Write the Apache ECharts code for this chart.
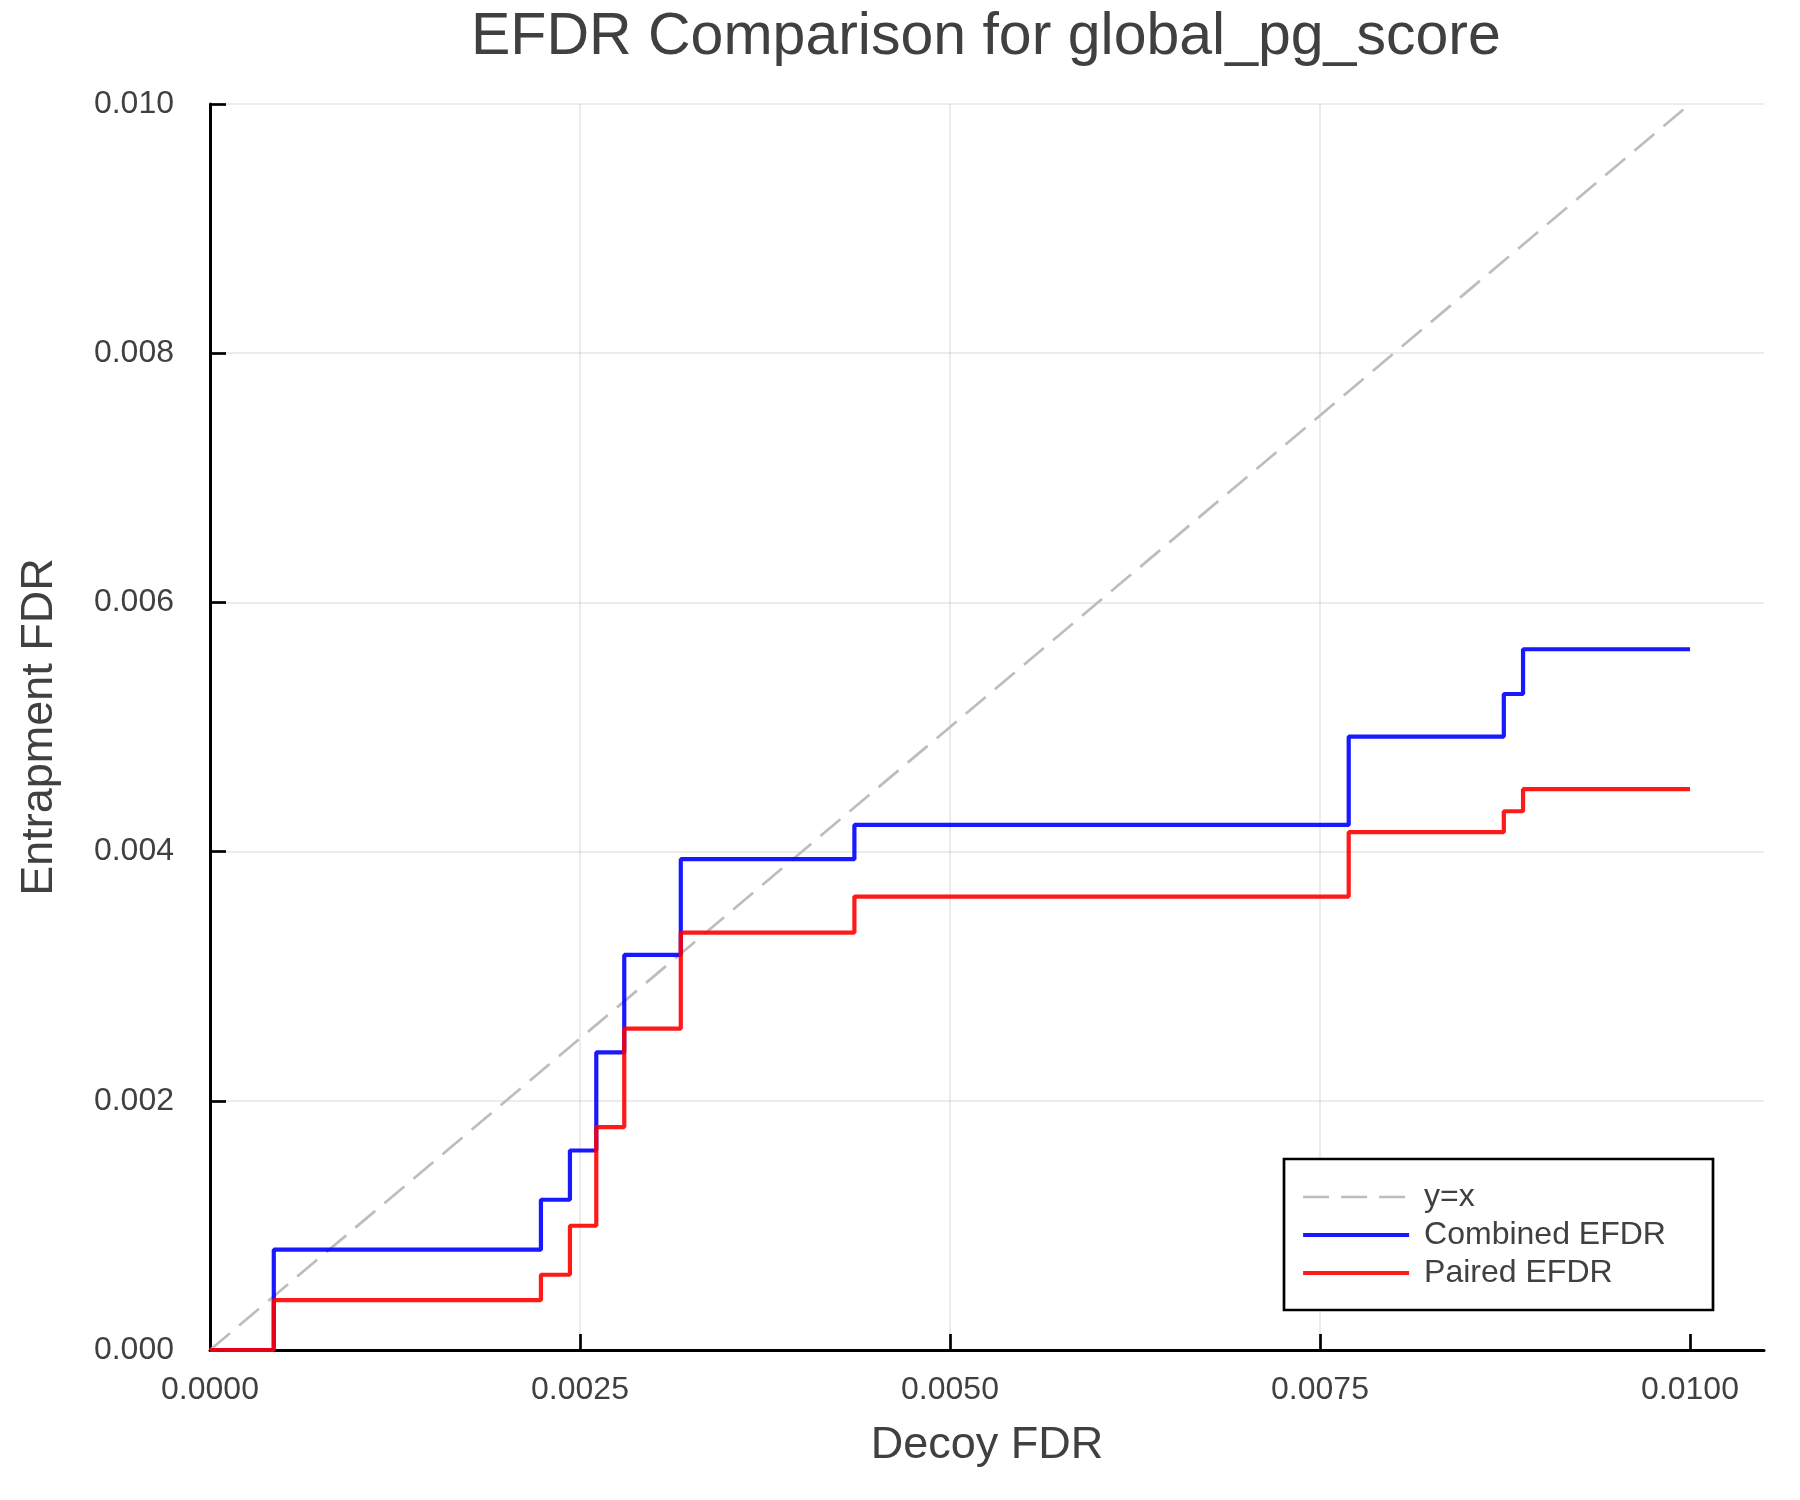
<!DOCTYPE html>
<html>
<head>
<meta charset="utf-8">
<script src="https://cdn.jsdelivr.net/npm/echarts@6/dist/echarts.min.js"></script>
<style>
html,body{margin:0;padding:0;background:#fff;}
#chart{width:1800px;height:1500px;}
</style>
</head>
<body>
<div id="chart"></div>
<script>
// ---- data ----
const decoyFdr     = [0, 0.000431, 0.002236, 0.002432, 0.002610, 0.002799, 0.003181, 0.004354, 0.007694, 0.008742, 0.008872, 0.0100];
const combinedEfdr = [0, 0.000805, 0.001206, 0.001601, 0.002388, 0.003171, 0.003939, 0.004214, 0.004923, 0.005265, 0.005624, 0.005624];
const pairedEfdr   = [0, 0.000401, 0.000604, 0.000997, 0.001789, 0.002580, 0.003350, 0.003639, 0.004156, 0.004324, 0.004501, 0.004501];
const identityX    = [0, 0.01];
const xTicks       = [0, 0.0025, 0.005, 0.0075, 0.01];
const seriesNames  = ['y=x', 'Combined EFDR', 'Paired EFDR'];

const FONT = 'Liberation Sans';
const TXT = '#404040';

const pairs = (xs, ys) => xs.map((x, i) => [x, ys[i]]);

const chart = echarts.init(document.getElementById('chart'), null, {renderer: 'canvas'});
chart.setOption({
  animation: false,
  backgroundColor: '#ffffff',
  textStyle: {fontFamily: FONT},
  title: {
    text: 'EFDR Comparison for global_pg_score',
    left: 467, top: 4, padding: 4,
    textStyle: {fontFamily: FONT, fontSize: 59, fontWeight: 'normal', color: TXT}
  },
  grid: {left: 210, right: 36, top: 104, bottom: 150, containLabel: false},
  xAxis: {
    type: 'value', min: 0, max: 0.0105, interval: 0.0025,
    name: 'Decoy FDR', nameLocation: 'middle', nameGap: 73,
    nameTextStyle: {fontFamily: FONT, fontSize: 45, color: TXT},
    axisLine: {show: true, onZero: false, lineStyle: {color: '#000', width: 3}},
    axisTick: {show: true, inside: true, length: 16, customValues: xTicks, lineStyle: {color: '#000', width: 2.7}},
    axisLabel: {show: true, margin: 24, customValues: xTicks, fontFamily: FONT, fontSize: 32, color: TXT,
      formatter: v => v.toFixed(4)},
    splitLine: {show: true, showMaxLine: false, lineStyle: {color: 'rgba(0,0,0,0.1)', width: 1.5}}
  },
  yAxis: {
    type: 'value', min: 0, max: 0.01, interval: 0.002,
    name: 'Entrapment FDR', nameLocation: 'middle', nameGap: 148,
    nameTextStyle: {fontFamily: FONT, fontSize: 45, color: TXT},
    axisLine: {show: true, onZero: false, lineStyle: {color: '#000', width: 3}},
    axisTick: {show: true, inside: true, length: 16, lineStyle: {color: '#000', width: 2.7}},
    axisLabel: {show: true, margin: 36, fontFamily: FONT, fontSize: 32, color: TXT,
      formatter: v => v.toFixed(3)},
    splitLine: {show: true, lineStyle: {color: 'rgba(0,0,0,0.1)', width: 1.5}}
  },
  legend: {
    orient: 'vertical', left: 1301, top: 1178, padding: 0,
    itemWidth: 106, itemHeight: 14, itemGap: 0,
    itemStyle: {opacity: 0},
    data: [
      {name: seriesNames[0], lineStyle: {width: 2.7, color: '#bdbdbd', type: [26, 12]}},
      {name: seriesNames[1], lineStyle: {width: 4.2, color: '#0000ff', opacity: 0.9}},
      {name: seriesNames[2], lineStyle: {width: 4.2, color: '#ff0000', opacity: 0.9}}
    ],
    textStyle: {fontFamily: FONT, fontSize: 32, lineHeight: 38, color: TXT, padding: [0, 0, 0, 10]}
  },
  graphic: [{
    type: 'rect', z: 3,
    shape: {x: 1284, y: 1159, width: 429, height: 151},
    style: {fill: '#ffffff', stroke: '#000000', lineWidth: 2.7}
  }],
  series: [
    {
      name: seriesNames[0], type: 'line', symbol: 'none', z: 1,
      data: identityX.map(v => [v, v]),
      lineStyle: {color: '#bdbdbd', width: 2.7, type: [26, 12]},
      itemStyle: {color: '#bdbdbd'}
    },
    {
      name: seriesNames[1], type: 'line', step: 'end', symbol: 'none', z: 2,
      data: pairs(decoyFdr, combinedEfdr),
      lineStyle: {color: '#0000ff', width: 4.2, opacity: 0.9},
      itemStyle: {color: '#0000ff', opacity: 0.9}
    },
    {
      name: seriesNames[2], type: 'line', step: 'end', symbol: 'none', z: 2,
      data: pairs(decoyFdr, pairedEfdr),
      lineStyle: {color: '#ff0000', width: 4.2, opacity: 0.9},
      itemStyle: {color: '#ff0000', opacity: 0.9}
    }
  ]
});
</script>
</body>
</html>
